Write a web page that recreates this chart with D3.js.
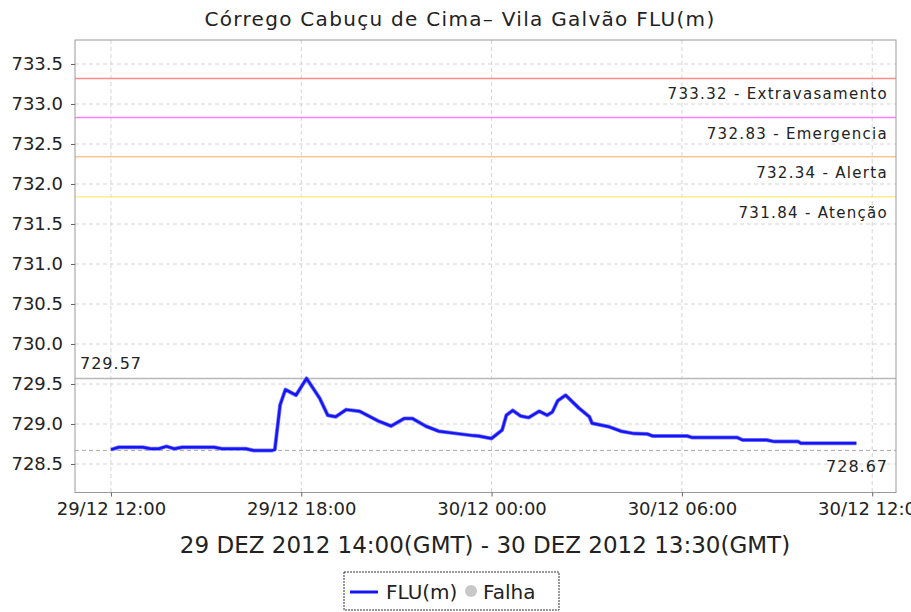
<!DOCTYPE html>
<meta charset="utf-8">
<style>
body { margin: 0; background: #fff; }
svg text { font-family: 'DejaVu Sans', sans-serif; fill: #222; }
</style>
<body>
<svg id="chart"></svg>
<script src="https://d3js.org/d3.v7.min.js"></script>
<script>
// readings (local time) and level in metres
var times = ["29/12 12:00","29/12 12:15","29/12 13:00","29/12 13:15","29/12 13:30","29/12 13:45","29/12 14:00",
  "29/12 14:15","29/12 15:15","29/12 15:30","29/12 16:15","29/12 16:30","29/12 17:05","29/12 17:10",
  "29/12 17:20","29/12 17:30","29/12 17:50","29/12 18:10","29/12 18:35","29/12 18:50","29/12 19:05",
  "29/12 19:25","29/12 19:50","29/12 20:25","29/12 20:50","29/12 21:15","29/12 21:30","29/12 21:55",
  "29/12 22:20","29/12 22:55","29/12 23:25","29/12 23:35","30/12 00:00","30/12 00:20","30/12 00:28",
  "30/12 00:40","30/12 00:55","30/12 01:10","30/12 01:30","30/12 01:45","30/12 01:55","30/12 02:05",
  "30/12 02:20","30/12 02:45","30/12 03:05","30/12 03:10","30/12 03:40","30/12 04:05","30/12 04:30",
  "30/12 04:55","30/12 05:05","30/12 06:10","30/12 06:20","30/12 07:45","30/12 07:55","30/12 08:40",
  "30/12 08:55","30/12 09:40","30/12 09:45","30/12 11:30"];
var levels = [728.68,728.71,728.71,728.69,728.69,728.72,728.69,
  728.71,728.71,728.69,728.69,728.67,728.67,728.68,
  729.24,729.43,729.36,729.57,729.32,729.11,729.09,
  729.18,729.16,729.04,728.975,729.07,729.07,728.975,
  728.91,728.88,728.855,728.85,728.82,728.925,729.11,
  729.17,729.10,729.08,729.16,729.11,729.15,729.29,
  729.36,729.20,729.09,729.01,728.97,728.91,728.88,
  728.875,728.85,728.85,728.83,728.83,728.80,728.80,
  728.78,728.78,728.76,728.76];

var thresholdValues = [733.32, 732.83, 732.34, 731.84];
var thresholdNames = ["Extravasamento", "Emergencia", "Alerta", "Atenção"];
var thresholdColors = ["#ff8a8a", "#ff80ff", "#ffc890", "#ffee90"];
var maxLevel = 729.57, minLevel = 728.67;

var yTicks = [728.5, 729.0, 729.5, 730.0, 730.5, 731.0, 731.5, 732.0, 732.5, 733.0, 733.5];
var xTickLabels = ["29/12 12:00", "29/12 18:00", "30/12 00:00", "30/12 06:00", "30/12 12:00"];

var title = "Córrego Cabuçu de Cima– Vila Galvão FLU(m)";
var subtitle = "29 DEZ 2012 14:00(GMT) - 30 DEZ 2012 13:30(GMT)";

var W = 911, H = 612;
var margin = {top: 40, right: 15, bottom: 119.5, left: 75},
    width = W - margin.left - margin.right,
    height = H - margin.top - margin.bottom;

var parse = d3.timeParse("%d/%m/%Y %H:%M");
function toDate(s) { return parse(s.slice(0, 5) + "/2012" + s.slice(5)); }

var data = times.map(function(t, i) { return {t: toDate(t), v: levels[i]}; });

var x = d3.scaleTime()
    .domain([d3.timeMinute.offset(toDate("29/12 12:00"), -68), d3.timeMinute.offset(toDate("30/12 12:00"), 45)])
    .range([0, width]);
var y = d3.scaleLinear().domain([728.144, 733.8]).range([height, 0]);

var svg = d3.select("#chart").attr("width", W).attr("height", H);

svg.append("text")
    .attr("x", 460).attr("y", 26)
    .attr("text-anchor", "middle")
    .style("font-size", "20px")
    .style("letter-spacing", "1.3px")
    .text(title);

var g = svg.append("g")
    .attr("transform", "translate(" + margin.left + "," + margin.top + ")");

var xTicks = xTickLabels.map(toDate);

// grid
g.selectAll(".hgrid").data(yTicks).enter().append("line")
    .attr("x1", 0).attr("x2", width)
    .attr("y1", function(d) { return y(d); }).attr("y2", function(d) { return y(d); })
    .attr("stroke", "#d4d4d4").attr("stroke-dasharray", "4,3");
g.selectAll(".vgrid").data(xTicks).enter().append("line")
    .attr("y1", 0).attr("y2", height)
    .attr("x1", function(d) { return x(d); }).attr("x2", function(d) { return x(d); })
    .attr("stroke", "#d4d4d4").attr("stroke-dasharray", "4,3");

// threshold lines
g.selectAll(".thr").data(thresholdValues).enter().append("line")
    .attr("x1", 0).attr("x2", width)
    .attr("y1", function(d) { return y(d); }).attr("y2", function(d) { return y(d); })
    .attr("stroke", function(d, i) { return thresholdColors[i]; })
    .attr("stroke-width", 1.5);
g.selectAll(".thrlabel").data(thresholdValues).enter().append("text")
    .attr("x", width - 8)
    .attr("y", function(d) { return y(d) + 21; })
    .attr("text-anchor", "end")
    .style("font-size", "15px")
    .style("letter-spacing", "1.3px")
    .text(function(d, i) { return d.toFixed(2) + " - " + thresholdNames[i]; });

// max / min lines
g.append("line")
    .attr("x1", 0).attr("x2", width)
    .attr("y1", y(maxLevel)).attr("y2", y(maxLevel))
    .attr("stroke", "#b8b8b8").attr("stroke-width", 1.5);
g.append("text")
    .attr("x", 5).attr("y", y(maxLevel) - 9)
    .style("font-size", "16px").style("letter-spacing", "1px")
    .text(maxLevel.toFixed(2));
g.append("line")
    .attr("x1", 0).attr("x2", width)
    .attr("y1", y(minLevel)).attr("y2", y(minLevel))
    .attr("stroke", "#aaa").attr("stroke-dasharray", "4,3");
g.append("text")
    .attr("x", width - 8).attr("y", y(minLevel) + 22)
    .attr("text-anchor", "end")
    .style("font-size", "16px").style("letter-spacing", "1px")
    .text(minLevel.toFixed(2));

// series
var line = d3.line().x(function(d) { return x(d.t); }).y(function(d) { return y(d.v); });
g.append("path")
    .datum(data)
    .attr("fill", "none")
    .attr("stroke", "#8080ff")
    .attr("stroke-width", 4)
    .attr("stroke-linejoin", "round")
    .attr("d", line);
g.append("path")
    .datum(data)
    .attr("fill", "none")
    .attr("stroke", "#1515f5")
    .attr("stroke-width", 2.5)
    .attr("stroke-linejoin", "round")
    .attr("d", line);

// frame
g.append("rect")
    .attr("width", width).attr("height", height)
    .attr("fill", "none").attr("stroke", "#999");

// axes
var yAxis = d3.axisLeft(y).tickValues(yTicks).tickSize(4).tickPadding(8)
    .tickFormat(d3.format(".1f"));
var ya = g.append("g").call(yAxis);
ya.select(".domain").remove();
ya.selectAll("line").attr("stroke", "#666");
ya.selectAll("text").style("font-size", "18px").attr("fill", "#222");

var xAxis = d3.axisBottom(x).tickValues(xTicks).tickSize(4).tickPadding(6)
    .tickFormat(d3.timeFormat("%d/%m %H:%M"));
var xa = g.append("g").attr("transform", "translate(0," + height + ")").call(xAxis);
xa.select(".domain").remove();
xa.selectAll("line").attr("stroke", "#666");
xa.selectAll("text").style("font-size", "18px").attr("fill", "#222");

svg.append("text")
    .attr("x", 485).attr("y", 553)
    .attr("text-anchor", "middle")
    .style("font-size", "23px")
    .text(subtitle);

// legend
var lg = svg.append("g").attr("transform", "translate(344,572)");
lg.append("rect").attr("width", 215).attr("height", 38)
    .attr("fill", "#fff").attr("stroke", "#333").attr("stroke-dasharray", "2,1");
lg.append("line").attr("x1", 6).attr("x2", 34).attr("y1", 20).attr("y2", 20)
    .attr("stroke", "#1515f5").attr("stroke-width", 3);
lg.append("text").attr("x", 42).attr("y", 27).style("font-size", "20px").text("FLU(m)");
lg.append("circle").attr("cx", 127).attr("cy", 19).attr("r", 6).attr("fill", "#c8c8c8");
lg.append("text").attr("x", 139).attr("y", 27).style("font-size", "20px").text("Falha");
</script>
</body>
